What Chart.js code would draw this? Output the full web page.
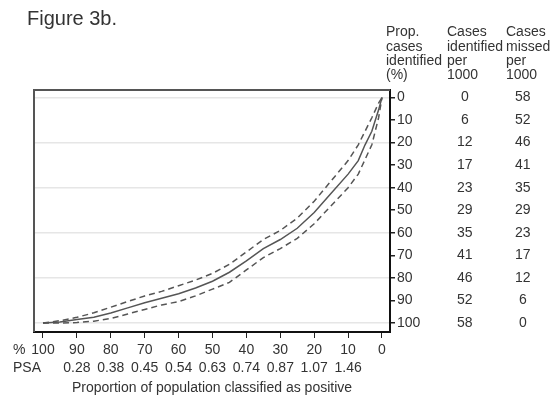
<!DOCTYPE html>
<html>
<head>
<meta charset="utf-8">
<script src="https://cdn.jsdelivr.net/npm/chart.js@4/dist/chart.umd.min.js"></script>
<style>
  body { margin: 0; background: #fff; }
  canvas { display: block; }
</style>
</head>
<body>
<canvas id="chart" width="558" height="402"></canvas>
<script>
// Proportion of population classified as positive (%)
const pctPositive    = [100, 95, 90, 85, 80, 75, 70, 65, 60, 55, 50, 45, 40, 35, 30, 25, 20, 15, 10, 7, 5, 3, 1, 0];
const propIdentified = [100, 99.6, 98.5, 97.5, 95.6, 93.3, 91, 89, 87, 84.5, 81.5, 77.5, 72.5, 67, 63, 58, 51, 42.5, 34, 28, 21, 15, 5.5, 0];
const upperBand      = [100, 99, 97.5, 95.5, 93, 90.5, 88, 86, 83.5, 81, 78, 74, 68.5, 63, 59, 53.5, 46, 37, 28, 21, 15, 9, 2.5, 0];
const lowerBand      = [100, 100, 99.8, 99.2, 98, 96, 94, 92, 90.5, 88, 85, 82, 76.5, 71, 67, 62.5, 56, 48, 40, 34, 27.5, 21, 9, 0];

const yTickValues     = [0, 10, 20, 30, 40, 50, 60, 70, 80, 90, 100];
const casesIdentified = [0, 6, 12, 17, 23, 29, 35, 41, 46, 52, 58];
const casesMissed     = [58, 52, 46, 41, 35, 29, 23, 17, 12, 6, 0];

const xTickValues = [100, 90, 80, 70, 60, 50, 40, 30, 20, 10, 0];
const psaLabels   = ['', '0.28', '0.38', '0.45', '0.54', '0.63', '0.74', '0.87', '1.07', '1.46', ''];

const FONT = '"Liberation Sans", Arial, sans-serif';
const TEXT = '#333';
const LINE = '#555';

const points = ys => pctPositive.map((x, i) => ({ x, y: ys[i] }));

function fixedTicks(values) {
  return axis => { axis.ticks = values.map(value => ({ value })); };
}

const Y_MIN = -3.3, Y_MAX = 104;

function columnAxis(weight, width, labels) {
  return {
    type: 'linear',
    position: 'right',
    weight,
    reverse: true,
    min: Y_MIN,
    max: Y_MAX,
    afterBuildTicks: fixedTicks(yTickValues),
    afterFit: s => { s.width = width; },
    border: { display: false },
    grid: { display: false, drawTicks: false },
    ticks: {
      autoSkip: false,
      padding: 0,
      crossAlign: 'center',
      color: TEXT,
      font: { family: FONT, size: 14 },
      callback: (v, i) => labels[i],
    },
  };
}

// frame on top/left and all the free text round the plot
const decorations = {
  id: 'decorations',
  beforeDatasetsDraw(chart) {
    let { ctx, chartArea: a } = chart;
    ctx.save();
    ctx.strokeStyle = '#555';
    ctx.lineWidth = 2;
    ctx.beginPath();
    ctx.moveTo(a.left, a.bottom);
    ctx.lineTo(a.left, a.top);
    ctx.lineTo(a.right, a.top);
    ctx.stroke();
    ctx.restore();
  },
  afterDraw(chart) {
    let { ctx } = chart;
    ctx.save();
    ctx.fillStyle = TEXT;
    ctx.textBaseline = 'middle';
    ctx.textAlign = 'left';

    ctx.font = `20px ${FONT}`;
    ctx.fillText('Figure 3b.', 27, 19);

    ctx.font = `14px ${FONT}`;
    let headers = [
      [386, ['Prop.', 'cases', 'identified', '(%)']],
      [447, ['Cases', 'identified', 'per', '1000']],
      [506, ['Cases', 'missed', 'per', '1000']],
    ];
    headers.forEach(([x, lines]) => {
      lines.forEach((t, i) => ctx.fillText(t, x, 32.5 + i * 14.2));
    });

    ctx.fillText('%', 13, 350);
    ctx.fillText('PSA', 13, 368);
    ctx.restore();
  },
};

new Chart(document.getElementById('chart'), {
  type: 'line',
  data: {
    datasets: [
      {
        data: points(upperBand),
        borderColor: LINE,
        borderWidth: 1.5,
        borderDash: [6, 4],
      },
      {
        data: points(propIdentified),
        borderColor: LINE,
        borderWidth: 1.5,
      },
      {
        data: points(lowerBand),
        borderColor: LINE,
        borderWidth: 1.5,
        borderDash: [6, 4],
      },
    ],
  },
  options: {
    responsive: false,
    devicePixelRatio: 1,
    animation: false,
    layout: { padding: { top: 90, left: 34, right: 0, bottom: 0 } },
    elements: {
      point: { radius: 0 },
      line: { tension: 0, fill: false },
    },
    plugins: {
      legend: { display: false },
      tooltip: { enabled: false },
    },
    scales: {
      x: {
        type: 'linear',
        position: 'bottom',
        reverse: true,
        min: -2.36,
        max: 102.65,
        afterBuildTicks: fixedTicks(xTickValues),
        afterFit: s => { s.height = 70; },
        border: { display: true, color: '#111', width: 2 },
        grid: { drawOnChartArea: false, color: '#222', tickLength: 6 },
        ticks: {
          autoSkip: false,
          maxRotation: 0,
          padding: 3,
          color: TEXT,
          font: { family: FONT, size: 14, lineHeight: 1.3 },
          callback: (v, i) => [String(xTickValues[i]), psaLabels[i]],
        },
        title: {
          display: true,
          text: 'Proportion of population classified as positive',
          color: TEXT,
          font: { family: FONT, size: 14, lineHeight: 1.2 },
          padding: { top: 0, bottom: 5.6 },
        },
      },
      y: {
        type: 'linear',
        position: 'right',
        weight: 0,
        reverse: true,
        min: Y_MIN,
        max: Y_MAX,
        afterBuildTicks: fixedTicks(yTickValues),
        afterFit: s => { s.width = 67; },
        border: { display: true, color: '#111', width: 2 },
        grid: {
          color: c => (c.tick && c.tick.value % 20 === 0 ? '#e6e6e6' : 'rgba(0,0,0,0)'),
          lineWidth: 1.5,
          tickColor: '#222',
          tickLength: 5,
        },
        ticks: {
          autoSkip: false,
          padding: 2,
          color: TEXT,
          font: { family: FONT, size: 14 },
          callback: (v, i) => String(yTickValues[i]),
        },
      },
      yId: columnAxis(1, 58, casesIdentified),
      yMiss: columnAxis(2, 43, casesMissed),
    },
  },
  plugins: [decorations],
});
</script>
</body>
</html>
